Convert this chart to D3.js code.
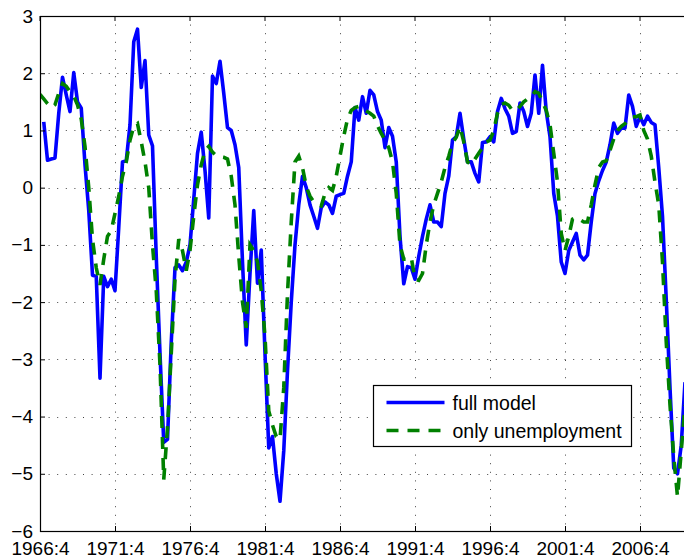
<!DOCTYPE html>
<html>
<head>
<meta charset="utf-8">
<script src="https://cdn.jsdelivr.net/npm/d3@7"></script>
<style>
  html, body { margin: 0; padding: 0; background: #fff; }
  svg { display: block; font-family: "Liberation Sans", Arial, Helvetica, sans-serif; }
</style>
</head>
<body>
<svg id="chart"></svg>
<script>
// quarterly values, index 0 = 1966:4
const fullModel = [null,
  1.15, 0.48, 0.5, 0.52, 1.3, 1.93, 1.62, 1.33, 2.01, 1.5, 1.39, 0.4, -0.4, -1.53, -1.55, -3.33,
  -1.55, -1.73, -1.6, -1.8, -0.7, 0.45, 0.47, 1.1, 2.55, 2.77, 1.75, 2.22, 0.92, 0.73, -1.2, -2.9,
  -4.45, -4.4, -2.7, -1.4, -1.35, -1.45, -1.3, -1.0, -0.2, 0.6, 0.97, 0.3, -0.53, 1.95, 1.82, 2.21,
  1.65, 1.05, 1.0, 0.75, 0.35, -1.3, -2.75, -1.5, -0.4, -1.67, -1.09, -2.9, -4.55, -4.35, -5.0, -5.48,
  -4.6, -3.2, -2.0, -1.0, -0.3, 0.2, 0.0, -0.3, -0.5, -0.71, -0.35, -0.25, -0.3, -0.45, -0.15, -0.12,
  -0.1, 0.2, 0.45, 1.4, 1.18, 1.59, 1.3, 1.7, 1.62, 1.33, 1.18, 0.7, 1.05, 0.9, 0.45, -0.85,
  -1.68, -1.38, -1.4, -1.6, -1.2, -0.85, -0.55, -0.3, -0.6, -0.6, -0.68, -0.1, 0.2, 0.83, 0.89, 1.3,
  0.85, 0.45, 0.45, 0.25, 0.1, 0.79, 0.8, 0.89, 0.8, 1.33, 1.56, 1.38, 1.25, 0.95, 0.98, 1.48,
  1.33, 1.07, 1.3, 1.97, 1.3, 2.14, 1.33, 0.89, -0.1, -0.5, -1.3, -1.5, -1.1, -0.95, -0.8, -1.18,
  -1.26, -1.18, -0.6, -0.1, 0.12, 0.3, 0.45, 0.75, 1.13, 0.95, 1.04, 1.04, 1.62, 1.42, 1.07, 1.24,
  1.1, 1.25, 1.14, 1.1, 0.35, -0.5, -1.95, -3.5, -4.9, -5.0, -4.5, -3.4
];

const onlyUnemployment = [
  1.63, 1.55, 1.47, 1.4, 1.45, 1.65, 1.82, 1.77, 1.68, 1.6, 1.45, 1.2, 0.72, 0.0, -0.9, -1.4,
  -1.7, -1.25, -0.85, -0.75, -0.45, -0.15, 0.2, 0.45, 0.83, 1.07, 1.12, 0.8, 0.45, 0.0, -1.0, -1.8,
  -3.1, -5.1, -4.2, -2.9, -1.6, -0.9, -1.1, -1.45, -1.1, -0.5, 0.05, 0.4, 0.65, 0.72, 0.62, 0.56,
  0.54, 0.53, 0.5, 0.2, -0.3, -1.2, -2.0, -2.45, -1.0, -1.1, -1.3, -1.8, -2.6, -3.9, -4.15, -4.35,
  -4.4, -3.5, -1.85, -0.6, 0.45, 0.55, 0.35, 0.02, -0.15, -0.25, -0.3, -0.32, -0.1, 0.0, -0.05, 0.2,
  0.55, 0.9, 1.2, 1.35, 1.4, 1.42, 1.38, 1.34, 1.3, 1.25, 1.08, 0.95, 0.83, 0.7, 0.45, -0.1,
  -1.0, -1.25, -1.25, -1.22, -1.6, -1.62, -1.5, -1.0, -0.6, -0.3, -0.1, 0.1, 0.35, 0.55, 0.78, 0.88,
  1.07, 0.8, 0.45, 0.4, 0.5, 0.6, 0.7, 0.8, 0.83, 1.0, 1.3, 1.45, 1.48, 1.44, 1.35, 1.35,
  1.42, 1.5, 1.55, 1.58, 1.68, 1.65, 1.5, 1.35, 1.1, 0.6, 0.1, -0.8, -1.1, -0.85, -0.55, -0.52,
  -0.56, -0.6, -0.6, -0.3, 0.05, 0.35, 0.45, 0.47, 0.65, 0.85, 1.0, 1.07, 1.12, 1.18, 1.24, 1.24,
  1.27, 1.0, 0.85, 0.55, 0.1, -0.3, -1.3, -2.7, -3.8, -4.7, -5.4, -4.6, -3.8
];

const xTickLabels = ["1966:4", "1971:4", "1976:4", "1981:4", "1986:4", "1991:4", "1996:4", "2001:4", "2006:4"];
const yTicks = [-6, -5, -4, -3, -2, -1, 0, 1, 2, 3];
const seriesNames = ["full model", "only unemployment"];

const width = 684, height = 559;
const margin = { top: 16, left: 40, bottom: 28 };
const plotRight = 40 + 175 * 3.75; // axes extend past the cropped right edge

const svg = d3.select("#chart")
    .attr("width", width)
    .attr("height", height);

const x = d3.scaleLinear()
    .domain([0, 175])
    .range([margin.left, plotRight]);

const y = d3.scaleLinear()
    .domain([-6, 3])
    .range([height - margin.bottom, margin.top]);

const xTickIdx = xTickLabels.map((d, i) => i * 20);

// grid
const grid = svg.append("g")
    .attr("stroke", "#444")
    .attr("stroke-width", 1)
    .attr("stroke-dasharray", "1,7.6");

grid.selectAll(".gy")
    .data(yTicks.slice(1, -1))
    .join("line")
    .attr("x1", x(0)).attr("x2", plotRight)
    .attr("y1", d => Math.round(y(d)) + 0.5)
    .attr("y2", d => Math.round(y(d)) + 0.5);

grid.selectAll(".gx")
    .data(xTickIdx.slice(1))
    .join("line")
    .attr("y1", y(3)).attr("y2", y(-6))
    .attr("x1", d => Math.round(x(d)) + 0.5)
    .attr("x2", d => Math.round(x(d)) + 0.5);

// clip
svg.append("clipPath").attr("id", "clip")
    .append("rect")
    .attr("x", x(0)).attr("y", y(3))
    .attr("width", plotRight - x(0)).attr("height", y(-6) - y(3));

const line = d3.line()
    .defined(d => d != null)
    .x((d, i) => x(i))
    .y(d => y(d));

const lines = svg.append("g").attr("clip-path", "url(#clip)");

lines.append("path")
    .datum(fullModel)
    .attr("fill", "none")
    .attr("stroke", "#0000ff")
    .attr("stroke-width", 3.6)
    .attr("stroke-linejoin", "round")
    .attr("d", line);

lines.append("path")
    .datum(onlyUnemployment)
    .attr("fill", "none")
    .attr("stroke", "#008000")
    .attr("stroke-width", 3.6)
    .attr("stroke-dasharray", "12,9")
    .attr("d", line);

// axes box
svg.append("rect")
    .attr("x", x(0) + 0.5).attr("y", y(3) + 0.5)
    .attr("width", plotRight - x(0)).attr("height", y(-6) - y(3))
    .attr("fill", "none")
    .attr("stroke", "#000")
    .attr("stroke-width", 1.2);

// y axis
const yAxis = svg.append("g")
    .attr("transform", `translate(${x(0)},0)`)
    .call(d3.axisLeft(y).tickValues(yTicks).tickSize(-5).tickPadding(7)
        .tickFormat(d => d < 0 ? "\u2212" + Math.abs(d) : d));
yAxis.select(".domain").remove();
yAxis.selectAll("text").attr("font-size", 19).attr("fill", "#000")
    .attr("font-family", "Liberation Sans, Arial, sans-serif");

// x axis
const xAxis = svg.append("g")
    .attr("transform", `translate(0,${y(-6)})`)
    .call(d3.axisBottom(x).tickValues(xTickIdx).tickSize(-5).tickPadding(11)
        .tickFormat((d, i) => xTickLabels[i]));
xAxis.select(".domain").remove();
xAxis.selectAll("text").attr("font-size", 19).attr("fill", "#000")
    .attr("font-family", "Liberation Sans, Arial, sans-serif");

// top ticks
svg.append("g").selectAll("line")
    .data(xTickIdx)
    .join("line")
    .attr("x1", d => x(d)).attr("x2", d => x(d))
    .attr("y1", y(3)).attr("y2", y(3) + 5)
    .attr("stroke", "#000");

// legend
const legend = svg.append("g").attr("transform", "translate(373.5,385.5)");
legend.append("rect")
    .attr("width", 258).attr("height", 61)
    .attr("fill", "#fff")
    .attr("stroke", "#000")
    .attr("stroke-width", 1.2);

const legendStyles = [
  { stroke: "#0000ff", dash: null },
  { stroke: "#008000", dash: "12,9" }
];

seriesNames.forEach((name, i) => {
  const cy = 17 + i * 28;
  legend.append("line")
      .attr("x1", 13).attr("x2", 71)
      .attr("y1", cy).attr("y2", cy)
      .attr("stroke", legendStyles[i].stroke)
      .attr("stroke-width", 3.6)
      .attr("stroke-dasharray", legendStyles[i].dash);
  legend.append("text")
      .attr("x", 79).attr("y", cy + 7)
      .attr("font-size", 19.5)
      .text(name);
});
</script>
</body>
</html>
